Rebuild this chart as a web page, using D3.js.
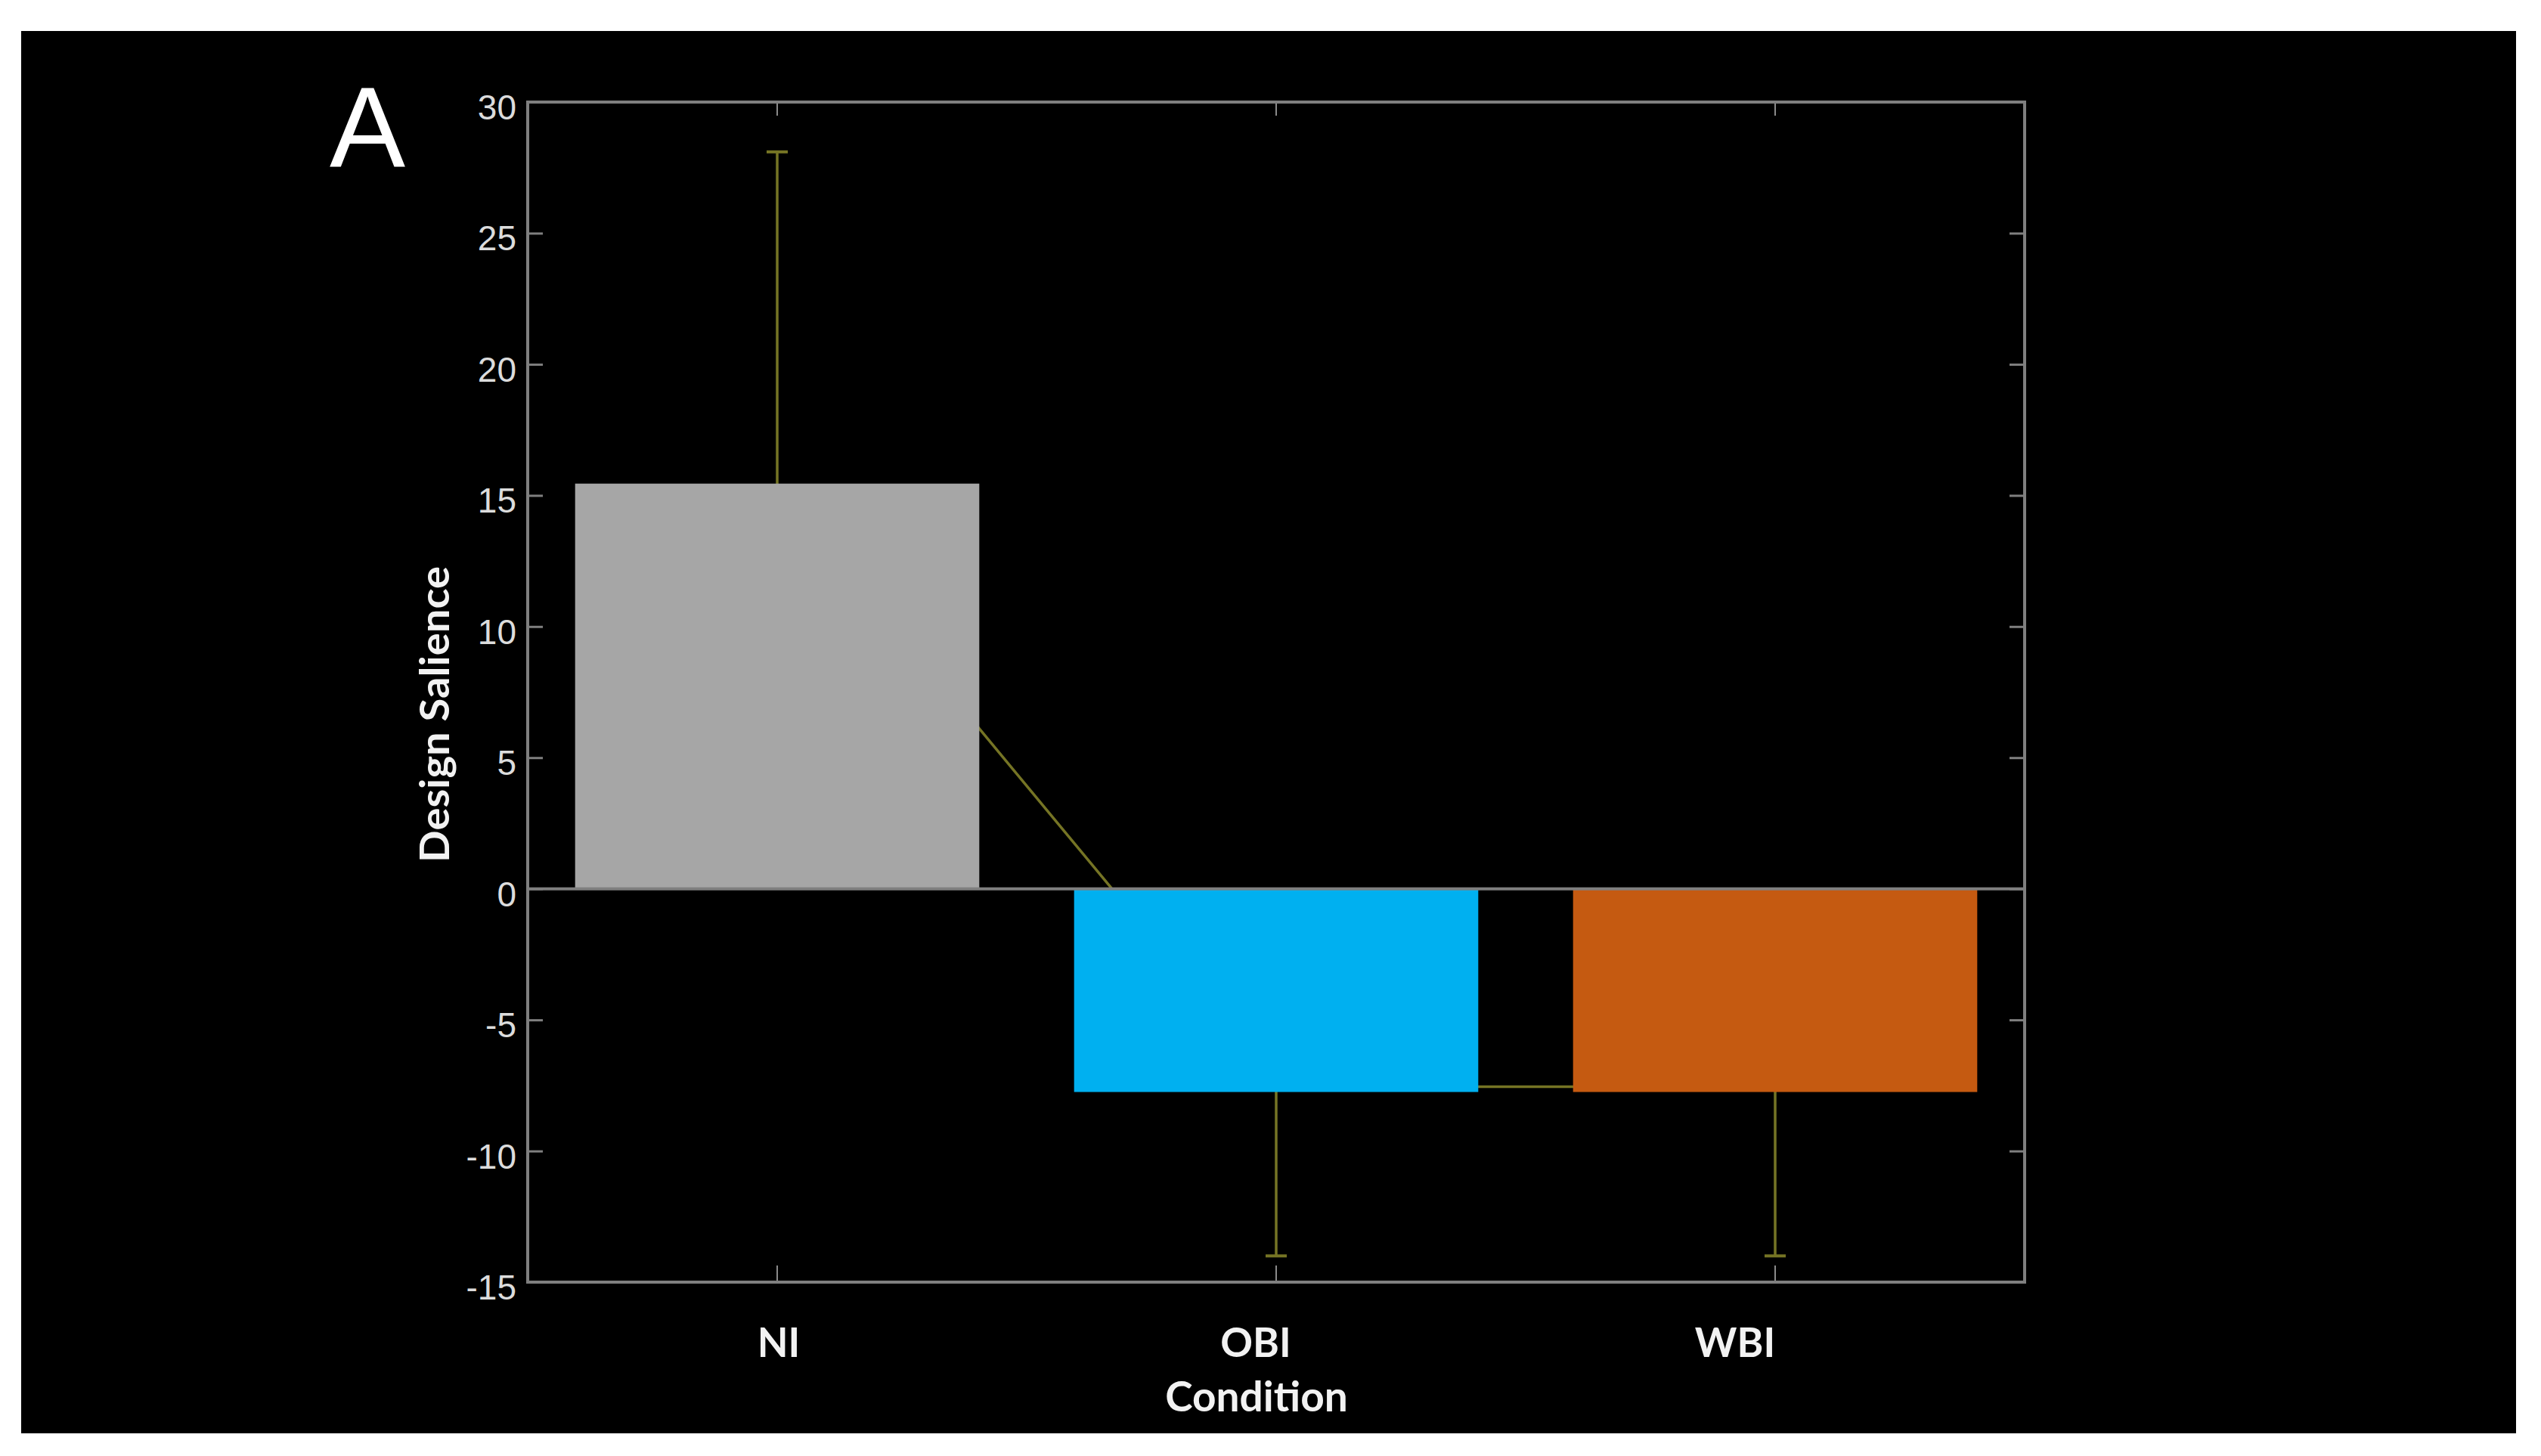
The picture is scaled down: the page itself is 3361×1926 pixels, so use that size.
<!DOCTYPE html>
<html><head><meta charset="utf-8">
<script src="https://cdn.jsdelivr.net/npm/d3@7"></script>
<style>body{margin:0;background:#fff;overflow:hidden;}</style>
</head><body>
<svg id="c" width="3361" height="1926"></svg>
<script>
// ---- data ----
const categories = ["NI", "OBI", "WBI"];
const means = [15.45, -7.75, -7.75];
const errors = [12.65, 6.25, 6.25];
const lineMeans = [15.4, -7.55, -7.55];
const barColors = ["#a6a6a6", "#00b0f0", "#c55a11"];
const yTicks = [-15, -10, -5, 0, 5, 10, 15, 20, 25, 30];
const yDomain = [-15, 30];
const panelLabel = "A";
const yTitle = "Design Salience";
const xTitle = "Condition";

// ---- layout ----
const svg = d3.select("#c");
const L = 698, R = 2678, T = 135, B = 1696;
const olive = "#757424";
const axisGray = "#7f7f7f";
const labelDx = [2, -27, -53];

svg.append("rect").attr("x", 28).attr("y", 41).attr("width", 3300).attr("height", 1855).attr("fill", "#000");

const x = d3.scaleBand().domain(categories).range([L, R]).paddingInner(0.19).paddingOuter(0.095);
const y = d3.scaleLinear().domain(yDomain).range([B, T]);
const cx = c => x(c) + x.bandwidth() / 2;

// connecting line (behind bars)
svg.append("path")
  .datum(categories.map((c, i) => [cx(c), y(lineMeans[i])]))
  .attr("d", d3.line())
  .attr("fill", "none").attr("stroke", olive).attr("stroke-width", 3.5);

// error bars
const eb = svg.append("g");
categories.forEach((c, i) => {
  const xc = cx(c), lo = y(means[i] - errors[i]), hi = y(means[i] + errors[i]);
  eb.append("line").attr("x1", xc).attr("x2", xc).attr("y1", lo).attr("y2", hi)
    .attr("stroke", olive).attr("stroke-width", 3.5);
  [lo, hi].forEach(yy => eb.append("line").attr("x1", xc - 14).attr("x2", xc + 14)
    .attr("y1", yy).attr("y2", yy).attr("stroke", olive).attr("stroke-width", 4));
});

// bars
svg.append("g").selectAll("rect").data(categories).join("rect")
  .attr("x", c => x(c))
  .attr("width", x.bandwidth())
  .attr("y", (c, i) => y(Math.max(0, means[i])))
  .attr("height", (c, i) => Math.abs(y(means[i]) - y(0)))
  .attr("fill", (c, i) => barColors[i]);

// zero line
svg.append("line").attr("x1", L).attr("x2", R).attr("y1", y(0)).attr("y2", y(0))
  .attr("stroke", axisGray).attr("stroke-width", 4);

// axes
const fmt = d => String(d);
const gl = svg.append("g").attr("transform", `translate(${L},0)`)
  .call(d3.axisLeft(y).tickValues(yTicks).tickFormat(fmt).tickSize(-20).tickSizeOuter(0).tickPadding(15));
const gr = svg.append("g").attr("transform", `translate(${R},0)`)
  .call(d3.axisRight(y).tickValues(yTicks).tickFormat("").tickSize(-20).tickSizeOuter(0));
const gb = svg.append("g").attr("transform", `translate(0,${B})`)
  .call(d3.axisBottom(x).tickFormat("").tickSize(-22).tickSizeOuter(0));
const gt = svg.append("g").attr("transform", `translate(0,${T})`)
  .call(d3.axisTop(x).tickFormat("").tickSize(-18).tickSizeOuter(0));
[gl, gr, gb, gt].forEach(g => {
  g.select(".domain").remove();
  g.selectAll(".tick line").attr("stroke", axisGray).attr("stroke-width", 3);
});
[gb, gt].forEach(g => g.selectAll(".tick line").attr("stroke-width", 2).attr("stroke", "#8a8a8a"));
gl.selectAll(".tick text")
  .attr("fill", "#dcdcdc").attr("font-family", "Liberation Sans, Arial, sans-serif")
  .attr("font-size", 46).attr("dy", "0.49em");

// frame
svg.append("rect").attr("x", L).attr("y", T).attr("width", R - L).attr("height", B - T)
  .attr("fill", "none").attr("stroke", axisGray).attr("stroke-width", 4);

// category labels
svg.append("g").selectAll("text").data(categories).join("text")
  .attr("x", (c, i) => cx(c) + labelDx[i]).attr("y", 1795)
  .attr("text-anchor", "middle").attr("fill", "#f2f2f2")
  .attr("font-family", "Lato, sans-serif").attr("font-weight", "bold").attr("font-size", 53)
  .text(c => c);

svg.append("text").attr("x", 1662).attr("y", 1867).attr("text-anchor", "middle")
  .attr("fill", "#f2f2f2").attr("font-family", "Lato, sans-serif").attr("font-weight", "bold")
  .attr("font-size", 55).text(xTitle);

svg.append("text").attr("transform", "translate(594,945) rotate(-90)").attr("text-anchor", "middle")
  .attr("fill", "#f2f2f2").attr("font-family", "Lato, sans-serif").attr("font-weight", "bold")
  .attr("font-size", 54).attr("textLength", 392).attr("lengthAdjust", "spacingAndGlyphs")
  .text(yTitle);

svg.append("text").attr("x", 436).attr("y", 220).attr("fill", "#ffffff")
  .attr("font-family", "Liberation Sans, Arial, sans-serif").attr("font-size", 150)
  .text(panelLabel);
</script>
</body></html>
